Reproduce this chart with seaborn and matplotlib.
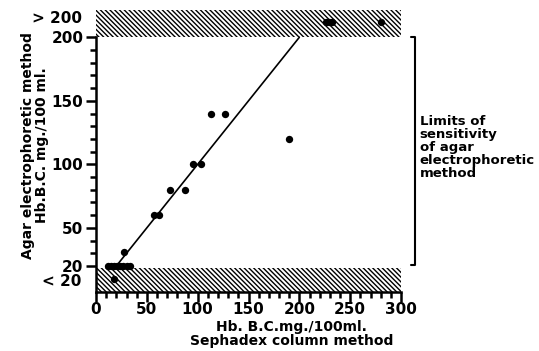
import numpy as np
import pandas as pd
import matplotlib
matplotlib.use("Agg")
import matplotlib.pyplot as plt
import seaborn as sns

# valores (Sephadex x agar)
sephadex = [12, 15, 18, 21, 24, 27, 30, 33, 18, 28, 57, 62, 73, 88, 95, 103,
            113, 127, 190, 226, 229, 232, 280]
agar = [20, 20, 20, 20, 20, 20, 20, 20, 10, 31, 60, 60, 80, 80, 100, 100,
        140, 140, 120, 212, 212, 212, 212]
linha_x = [20, 200]
linha_y = [20, 200]

yticks = [20, 50, 100, 150, 200]
xticks = [0, 50, 100, 150, 200, 250, 300]

sns.set_style("ticks")
plt.rcParams["font.family"] = ["DejaVu Sans"]
plt.rcParams["font.weight"] = "bold"
plt.rcParams["hatch.linewidth"] = 1.0
for k in ["text.color", "axes.labelcolor", "xtick.color", "ytick.color", "axes.edgecolor"]:
    plt.rcParams[k] = "black"

fig = plt.figure(figsize=(5.39, 3.51), dpi=100)
ax = fig.add_axes([96 / 539, 1 - 292 / 351, 305 / 539, 282 / 351])

df = pd.DataFrame({"x": sephadex, "y": agar})

# faixas fora do limite de sensibilidade
hatch = "\\" * 7
ax.axhspan(200, 221.5, facecolor="white", edgecolor="black", hatch=hatch, lw=0, zorder=0)
ax.axhspan(-0.5, 18.5, facecolor="white", edgecolor="black", hatch=hatch, lw=0, zorder=0)

sns.lineplot(x=linha_x, y=linha_y, color="black", linewidth=1.2, ax=ax, zorder=2)
sns.scatterplot(data=df, x="x", y="y", color="black", s=28, edgecolor="black",
                linewidth=0, ax=ax, zorder=3)

ax.set_xlim(0, 300)
ax.set_ylim(-0.5, 221.5)
ax.set_xticks(xticks)
ax.set_yticks(yticks)
ax.set_xticks(np.arange(0, 301, 10), minor=True)
ax.set_yticks(np.arange(20, 201, 10), minor=True)
ax.tick_params(axis="both", which="major", length=7, width=1.8, labelsize=11, pad=2)
ax.tick_params(axis="x", which="major", pad=0.5)
ax.tick_params(axis="both", which="minor", length=4, width=1.8)
for lab in ax.get_xticklabels() + ax.get_yticklabels():
    lab.set_fontweight("bold")

for s in ["top", "right"]:
    ax.spines[s].set_visible(False)
ax.spines["left"].set_linewidth(1.8)
ax.spines["bottom"].set_linewidth(1.8)
ax.spines["left"].set_bounds(-0.5, 200)

ax.text(-14, 215, "> 200", ha="right", va="center", fontsize=11, fontweight="bold", clip_on=False)
ax.text(-14, 7.5, "< 20", ha="right", va="center", fontsize=11, fontweight="bold", clip_on=False)

ax.set_xlabel("Hb. B.C.mg./100ml.\nSephadex column method", fontsize=10,
              fontweight="bold", linespacing=0.95)
ax.xaxis.set_label_coords(0.64, -0.1, transform=ax.transAxes)
ax.xaxis.label.set_va("top")
ax.set_ylabel("Agar electrophoretic method\nHb.B.C. mg./100 ml.", fontsize=10,
              fontweight="bold", linespacing=1.0)
ax.yaxis.set_label_coords(-0.155, 0.52)

# colchete dos limites de sensibilidade
ax.plot([310, 314, 314, 310], [200, 200, 20.5, 20.5], color="black", lw=1.5, clip_on=False)
ax.text(318.5, 113, "Limits of\nsensitivity\nof agar\nelectrophoretic\nmethod",
        ha="left", va="center", fontsize=9.5, fontweight="bold", linespacing=1.0, clip_on=False)

fig.savefig("out.png", dpi=100)
